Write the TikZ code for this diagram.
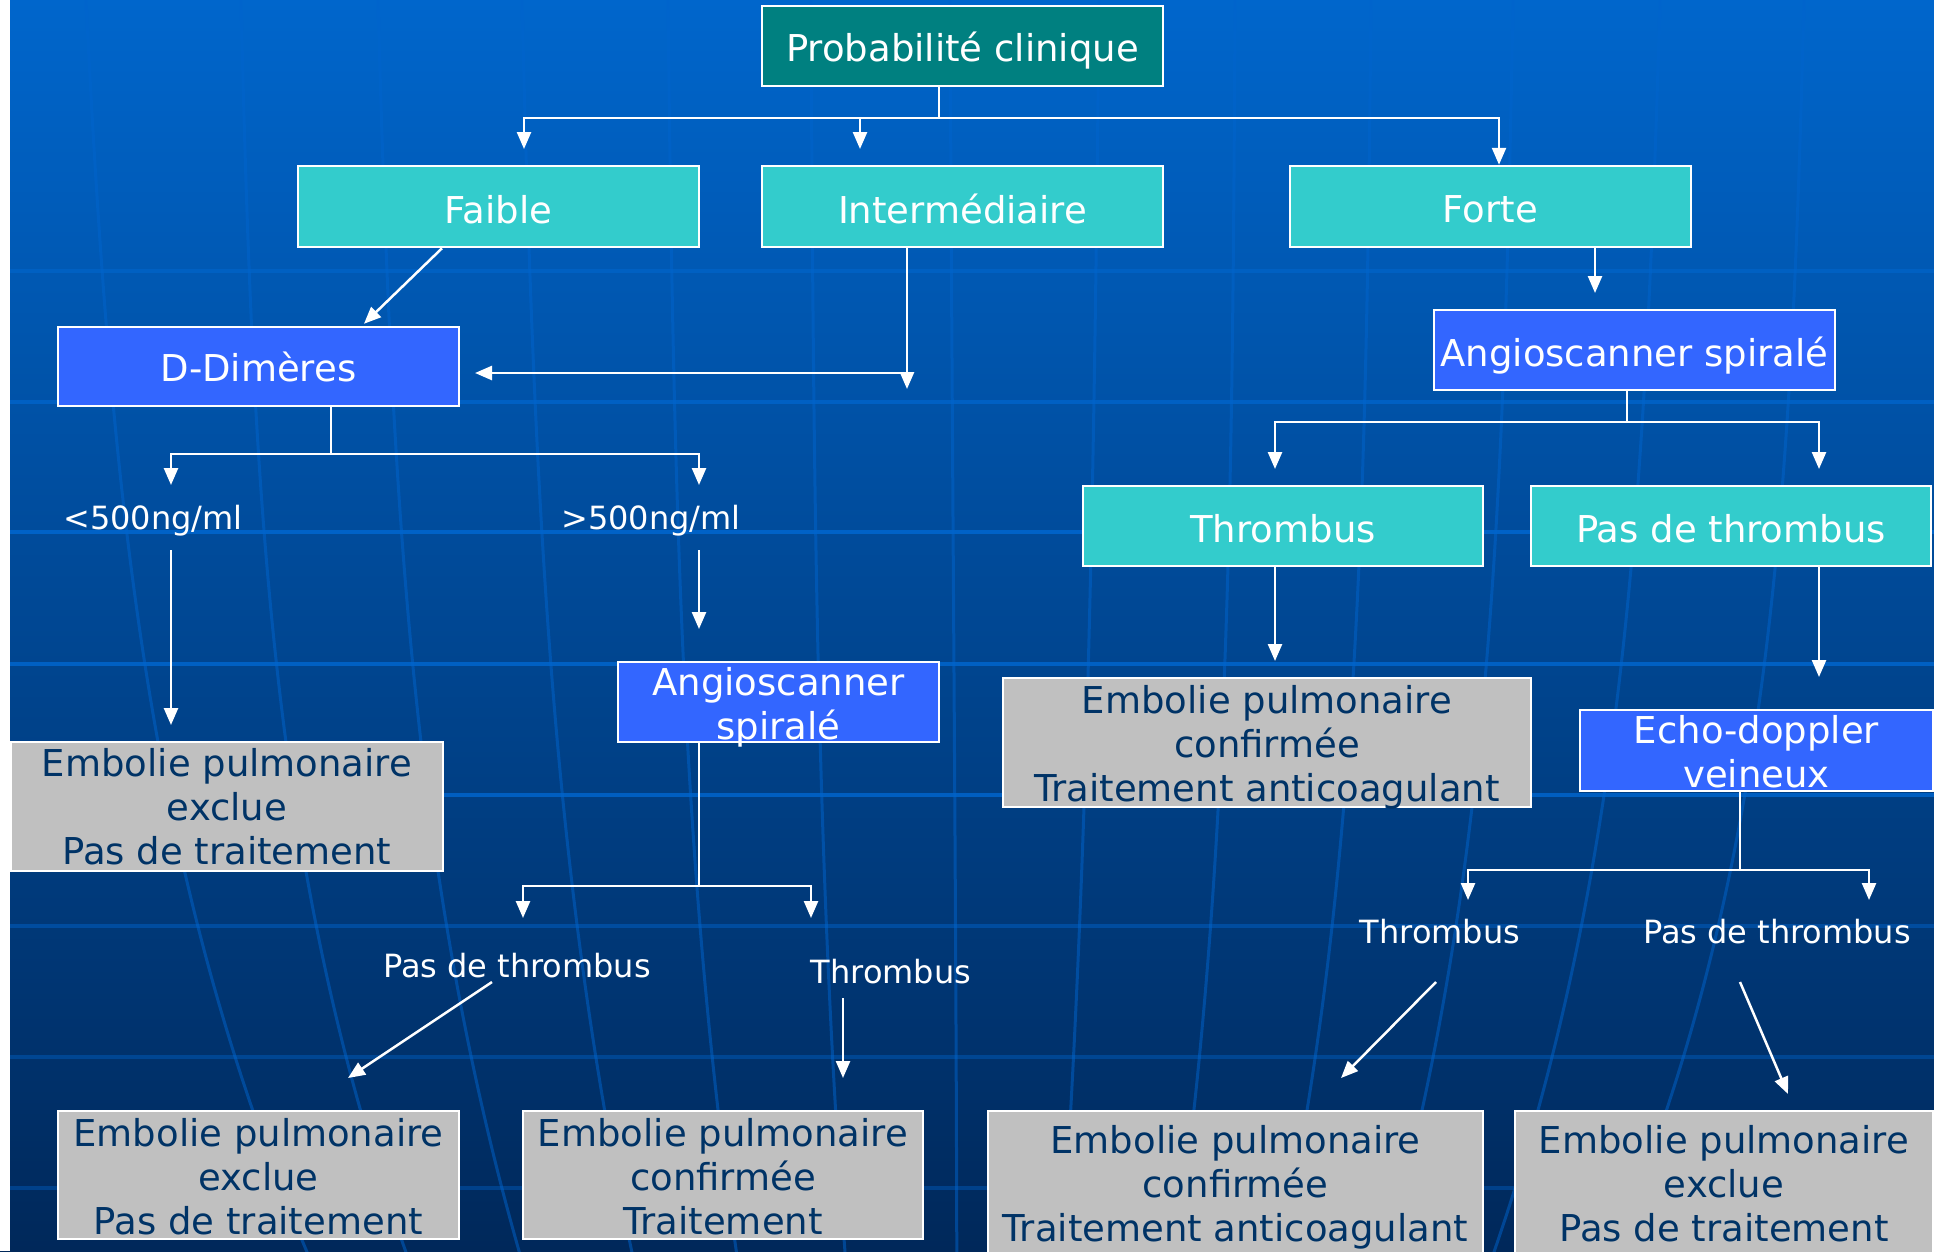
\documentclass[tikz,border=0pt]{standalone}
\usepackage{fontspec}
\setmainfont{DejaVu Sans}
\usetikzlibrary{arrows.meta}
\definecolor{bgtop}{HTML}{0066CC}
\definecolor{bgbot}{HTML}{00285A}
\definecolor{tealc}{HTML}{008080}
\definecolor{cyanc}{HTML}{33CCCC}
\definecolor{bluec}{HTML}{3366FF}
\definecolor{grayc}{HTML}{C0C0C0}
\definecolor{navyc}{HTML}{003366}
\definecolor{gridc}{RGB}{0,108,218}
\definecolor{meridc}{RGB}{0,100,205}
\begin{document}
\begin{tikzpicture}[x=1pt,y=-1pt,
  bx/.style={draw=white, line width=2.5pt, inner sep=0pt, rectangle},
  tw/.style={text=white, font=\fontsize{37}{44}\selectfont, align=center, inner sep=0pt},
  tn/.style={text=navyc, font=\fontsize{37}{44}\selectfont, align=center, inner sep=0pt},
  lab/.style={text=white, font=\fontsize{32}{38}\selectfont, inner sep=0pt},
  ln/.style={draw=white, line width=2.5pt},
  arr/.style={ln, -{Triangle[length=17pt,width=14pt]}},
  hz/.style={draw=gridc, line width=4pt},
  merid/.style={draw=meridc, line width=3pt, opacity=0.5}]
\useasboundingbox (0,0) rectangle (1934,1251);
% background
\begin{scope}
\clip (0,0) rectangle (1934,1251);
\shade[top color=bgtop, bottom color=bgbot] (0,0) rectangle (1934,1251);
\foreach \y/\o in {271/0.4, 402/0.55, 532/0.7, 664/0.7, 795/0.7, 926/0.4, 1057/0.35, 1188/0.35}
  \draw[hz, opacity=\o] (10,\y) -- (1934,\y);
\foreach \a/\b in {117/148, 256/271, 395/412, 537/552, 675/682, 814/817, 953/956, 1093/1087, 1232/1229, 1365/1359, 1502/1491, 1642/1624, 1788/1772}
  \draw[merid] ({\a-(\b-\a)},0) .. controls ({\a-(\b-\a)*0.2},500) and (\b,880) .. ({\b+(960-\b)*0.2},1260);
\fill[white] (0,0) rectangle (10,1251);
\end{scope}

% boxes
\node[bx, fill=tealc, minimum width=401pt, minimum height=80pt] (prob) at (962.5,46) {};
\node[tw] (probT) at ([yshift=-5pt]prob) {Probabilité clinique};
\node[bx, fill=cyanc, minimum width=401pt, minimum height=81pt] (faible) at (498.5,206.5) {};
\node[tw] (faibleT) at ([yshift=-3pt]faible) {Faible};
\node[bx, fill=cyanc, minimum width=401pt, minimum height=81pt] (inter) at (962.5,206.5) {};
\node[tw] (interT) at ([yshift=-2pt]inter) {Intermédiaire};
\node[bx, fill=cyanc, minimum width=401pt, minimum height=81pt] (forte) at (1490.5,206.5) {};
\node[tw] (forteT) at ([yshift=-3pt]forte) {Forte};
\node[bx, fill=bluec, minimum width=401pt, minimum height=79pt] (ddim) at (258.5,366.5) {};
\node[tw] (ddimT) at (ddim) {D-Dimères};
\node[bx, fill=bluec, minimum width=401pt, minimum height=80pt] (angioR) at (1634.5,350) {};
\node[tw] (angioRT) at ([yshift=-6pt]angioR) {Angioscanner spiralé};
\node[bx, fill=cyanc, minimum width=400pt, minimum height=80pt] (thrR) at (1283,526) {};
\node[tw] (thrRT) at ([yshift=-3pt]thrR) {Thrombus};
\node[bx, fill=cyanc, minimum width=400pt, minimum height=80pt] (pasR) at (1731,526) {};
\node[tw] (pasRT) at ([yshift=-3pt]pasR) {Pas de thrombus};
\node[bx, fill=grayc, minimum width=528pt, minimum height=129pt] (epcR1) at (1267,742.5) {};
\node[tn] (epcR1T) at ([yshift=-5pt]epcR1) {Embolie pulmonaire\\confirmée\\Traitement anticoagulant};
\node[bx, fill=bluec, minimum width=353pt, minimum height=81pt] (echo) at (1756.5,750.5) {};
\node[tw] (echoT) at ([yshift=-1pt]echo) {Echo-doppler\\veineux};
\node[bx, fill=grayc, minimum width=432pt, minimum height=129pt] (epeL1) at (227,806.5) {};
\node[tn] (epeL1T) at (epeL1) {Embolie pulmonaire\\exclue\\Pas de traitement};
\node[bx, fill=bluec, minimum width=321pt, minimum height=80pt] (angioM) at (778.5,702) {};
\node[tw] (angioMT) at ([yshift=-5pt]angioM) {Angioscanner\\spiralé};
\node[bx, fill=grayc, minimum width=401pt, minimum height=128pt] (epeL2) at (258.5,1175) {};
\node[tn] (epeL2T) at ([yshift=-2pt]epeL2) {Embolie pulmonaire\\exclue\\Pas de traitement};
\node[bx, fill=grayc, minimum width=400pt, minimum height=128pt] (epcL2) at (723,1175) {};
\node[tn] (epcL2T) at ([yshift=-2pt]epcL2) {Embolie pulmonaire\\confirmée\\Traitement};
\node[bx, fill=grayc, minimum width=495pt, minimum height=146pt] (epcR2) at (1235.5,1184) {};
\node[tn] (epcR2T) at ([yshift=-3pt]epcR2) {Embolie pulmonaire\\confirmée\\Traitement anticoagulant};
\node[bx, fill=grayc, minimum width=418pt, minimum height=146pt] (epeR2) at (1724,1184) {};
\node[tn] (epeR2T) at (epeR2) {Embolie pulmonaire\\exclue\\Pas de traitement};

% labels
\node[lab] (lt500) at (153,521) {<500ng/ml};
\node[lab] (gt500) at (651,521) {>500ng/ml};
\node[lab] (pasM) at (517,966) {Pas de thrombus};
\node[lab] (thrM) at (891,972) {Thrombus};
\node[lab] (thrR2) at (1440,932) {Thrombus};
\node[lab] (pasR2) at (1777,932) {Pas de thrombus};

% connectors: Probabilite
\coordinate (pj) at (939,118);
\coordinate (aF) at (524,149);
\coordinate (aI) at (860,149);
\draw[ln] (prob.south -| pj) -- (pj);
\draw[arr] (pj) -| (aF);
\draw[arr] (pj) -| ([xshift=8.5pt]forte.north);
\draw[arr] (aI |- pj) -- (aI);

% Faible -> D-Dimeres
\draw[arr] ([xshift=-56.5pt]faible.south) -- ([xshift=105.5pt,yshift=2pt]ddim.north);

% Intermediaire
\coordinate (iA) at (907,389);
\coordinate (iJ) at (907,373);
\coordinate (iL) at (475,373);
\draw[arr] (inter.south -| iA) -- (iA);
\draw[arr] (iJ) -- (iL);

% D-Dimeres split
\coordinate (dj) at (331,454);
\coordinate (aLt) at (171,485);
\coordinate (aGt) at (699,485);
\draw[ln] (ddim.south -| dj) -- (dj);
\draw[arr] (dj) -| (aLt);
\draw[arr] (dj) -| (aGt);
\coordinate (lA) at (171,550);
\coordinate (lB) at (171,725);
\draw[arr] (lA) -- (lB);
\coordinate (gA) at (699,550);
\coordinate (gB) at (699,629);
\draw[arr] (gA) -- (gB);

% Angioscanner (middle) split
\coordinate (mj) at (699,886);
\coordinate (aPm) at (523,918);
\coordinate (aTm) at (811,918);
\draw[ln] (angioM.south -| mj) -- (mj);
\draw[arr] (mj) -| (aPm);
\draw[arr] (mj) -| (aTm);
\coordinate (pmA) at (492,982);
\coordinate (pmB) at (348,1078);
\draw[arr] (pmA) -- (pmB);
\coordinate (tmA) at (843,998);
\coordinate (tmB) at (843,1078);
\draw[arr] (tmA) -- (tmB);

% Forte -> Angioscanner
\coordinate (fA) at (1595,293);
\draw[arr] (forte.south -| fA) -- (fA);
\coordinate (rj) at (1627,422);
\coordinate (aTr) at (1275,469);
\coordinate (aPr) at (1819,469);
\draw[ln] (angioR.south -| rj) -- (rj);
\draw[arr] (rj) -| (aTr);
\draw[arr] (rj) -| (aPr);
\coordinate (t1) at (1275,661);
\draw[arr] (thrR.south -| t1) -- (t1);
\coordinate (p1) at (1819,677);
\draw[arr] (pasR.south -| p1) -- (p1);

% Echo-doppler split
\coordinate (ej) at (1740,870);
\coordinate (aTe) at (1468,900);
\coordinate (aPe) at (1869,900);
\draw[ln] (echo.south -| ej) -- (ej);
\draw[arr] (ej) -| (aTe);
\draw[arr] (ej) -| (aPe);
\coordinate (teA) at (1436,982);
\coordinate (teB) at (1341,1078);
\draw[arr] (teA) -- (teB);
\coordinate (peA) at (1740,982);
\coordinate (peB) at (1788,1094);
\draw[arr] (peA) -- (peB);
\end{tikzpicture}
\end{document}
